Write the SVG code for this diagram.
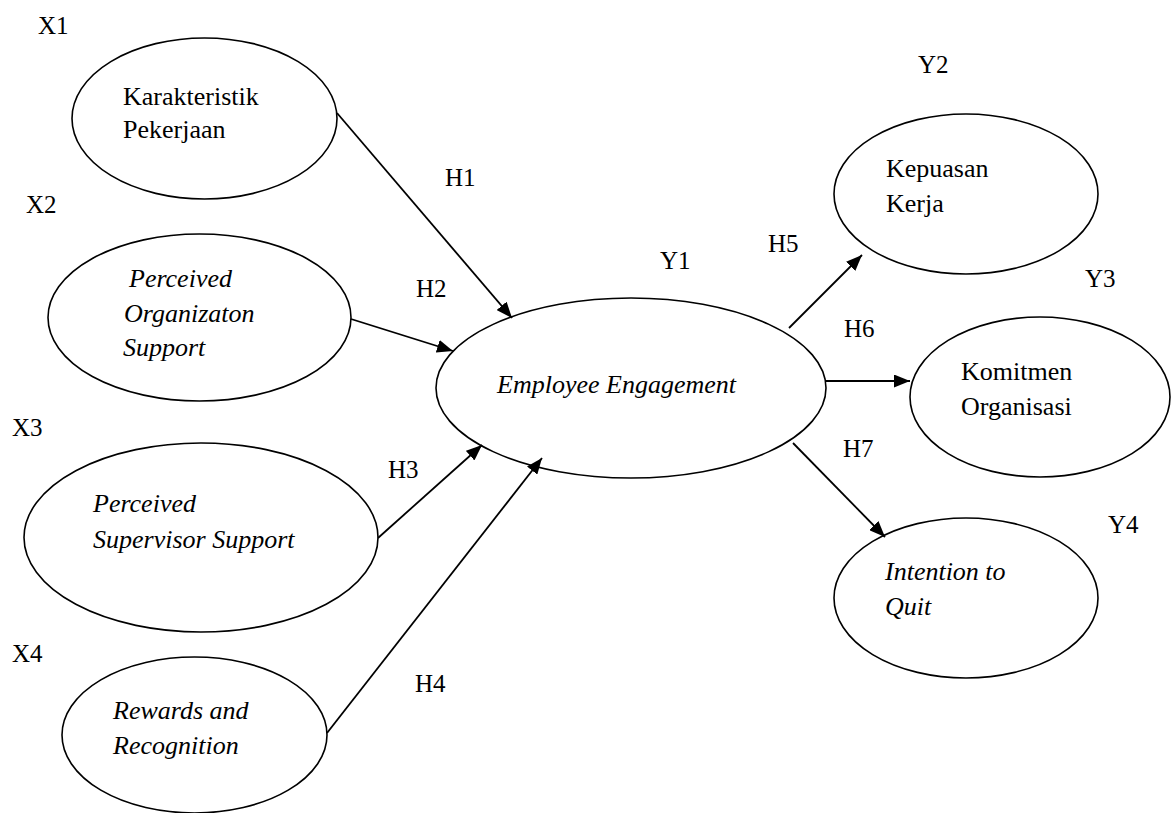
<svg xmlns="http://www.w3.org/2000/svg" width="1172" height="813" viewBox="0 0 1172 813">
<style>
  .node ellipse { fill: #fff; stroke: #000; stroke-width: 1.6; }
  text { font-family: "Liberation Serif", "Times New Roman", serif; font-size: 26px; fill: #000; }
  .it { font-style: italic; }
  .lbl { font-size: 25px; }
  .conn line { stroke: #000; stroke-width: 1.8; marker-end: url(#arr); }
</style>
<defs>
  <marker id="arr" viewBox="0 0 16 13" refX="16" refY="6.5" markerWidth="16" markerHeight="13" markerUnits="userSpaceOnUse" orient="auto">
    <path d="M0,0 L16,6.5 L0,13 Z" fill="#000"/>
  </marker>
</defs>
<rect width="1172" height="813" fill="#fff"/>
<g id="labels">
  <text class="lbl" x="38" y="34">X1</text>
  <text class="lbl" x="26" y="213">X2</text>
  <text class="lbl" x="12" y="436">X3</text>
  <text class="lbl" x="12" y="662">X4</text>
  <text class="lbl" x="445" y="186">H1</text>
  <text class="lbl" x="416" y="297">H2</text>
  <text class="lbl" x="388" y="478">H3</text>
  <text class="lbl" x="415" y="692">H4</text>
  <text class="lbl" x="660" y="269">Y1</text>
  <text class="lbl" x="768" y="252">H5</text>
  <text class="lbl" x="918" y="73">Y2</text>
  <text class="lbl" x="1085" y="287">Y3</text>
  <text class="lbl" x="844" y="337">H6</text>
  <text class="lbl" x="843" y="457">H7</text>
  <text class="lbl" x="1108" y="533">Y4</text>
</g>
<g id="x1" class="node">
  <ellipse cx="204.5" cy="118.5" rx="132.5" ry="80.5"/>
  <text x="123" y="105">Karakteristik</text>
  <text x="123" y="138">Pekerjaan</text>
</g>
<g id="x2" class="node">
  <ellipse cx="199.5" cy="317.5" rx="151.5" ry="83.5"/>
  <text class="it" x="129" y="287">Perceived</text>
  <text class="it" x="124" y="322">Organizaton</text>
  <text class="it" x="123" y="356">Support</text>
</g>
<g id="x3" class="node">
  <ellipse cx="201" cy="537.5" rx="177" ry="94.5"/>
  <text class="it" x="93" y="512">Perceived</text>
  <text class="it" x="93" y="548">Supervisor Support</text>
</g>
<g id="x4" class="node">
  <ellipse cx="194.5" cy="735" rx="132.5" ry="78"/>
  <text class="it" x="113" y="719">Rewards and</text>
  <text class="it" x="113" y="754">Recognition</text>
</g>
<g id="y1" class="node">
  <ellipse cx="631" cy="388" rx="195" ry="90"/>
  <text class="it" x="497" y="393">Employee Engagement</text>
</g>
<g id="y2" class="node">
  <ellipse cx="966" cy="194" rx="132" ry="80"/>
  <text x="886" y="177">Kepuasan</text>
  <text x="886" y="212">Kerja</text>
</g>
<g id="y3" class="node">
  <ellipse cx="1040" cy="397" rx="130" ry="80"/>
  <text x="961" y="380">Komitmen</text>
  <text x="961" y="415">Organisasi</text>
</g>
<g id="y4" class="node">
  <ellipse cx="966" cy="598" rx="132" ry="80"/>
  <text class="it" x="885" y="580">Intention to</text>
  <text class="it" x="885" y="615">Quit</text>
</g>
<g id="connectors" class="conn">
  <line x1="337" y1="113" x2="512" y2="318"/>
  <line x1="351" y1="319" x2="453" y2="351"/>
  <line x1="378" y1="538" x2="482" y2="445"/>
  <line x1="327" y1="733" x2="542" y2="458"/>
  <line x1="789" y1="328" x2="862" y2="255"/>
  <line x1="826" y1="381" x2="910" y2="381"/>
  <line x1="793" y1="443" x2="885" y2="537"/>
</g>
</svg>
